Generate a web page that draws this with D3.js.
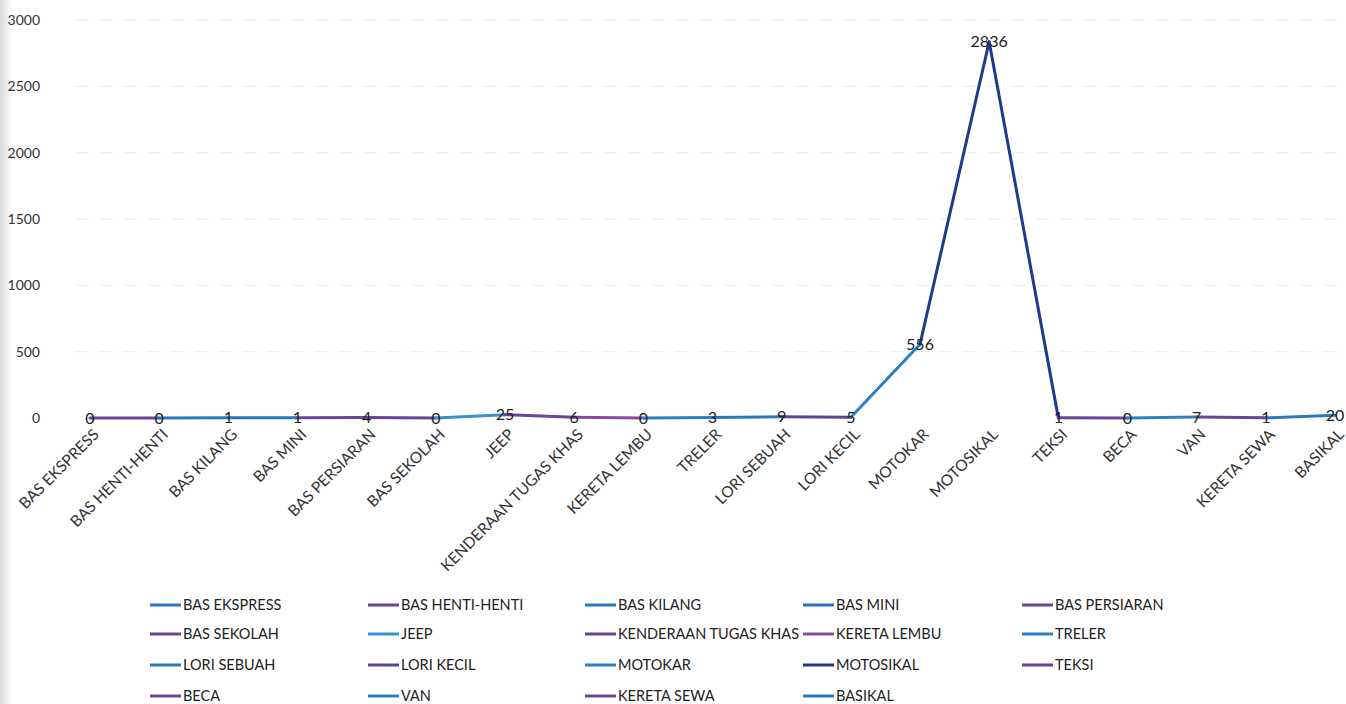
<!DOCTYPE html>
<html><head><meta charset="utf-8">
<script src="https://cdn.jsdelivr.net/npm/d3@7"></script>
<style>body{margin:0;background:#fff;}svg{display:block;}</style>
</head><body>
<svg id="c" width="1346" height="704"></svg>
<script>
const categories = ["BAS EKSPRESS","BAS HENTI-HENTI","BAS KILANG","BAS MINI","BAS PERSIARAN","BAS SEKOLAH","JEEP","KENDERAAN TUGAS KHAS","KERETA LEMBU","TRELER","LORI SEBUAH","LORI KECIL","MOTOKAR","MOTOSIKAL","TEKSI","BECA","VAN","KERETA SEWA","BASIKAL"];
const values = [0,0,1,1,4,0,25,6,0,3,9,5,556,2836,1,0,7,1,20];
const yTicks = [0,500,1000,1500,2000,2500,3000];
const seriesColors = ["#2a78c0","#6a4593","#2a78c0","#2a72bd","#6a4593","#6a4593","#3a8fd0","#6a4593","#8a4a9a","#2a80c6","#2a78c0","#5e4590","#2a80c6","#1f3a8c","#6a4593","#6a4593","#2a80c6","#6a4593","#2a78c0"];

const svg = d3.select("#c");
const font = "Lato, 'Open Sans', sans-serif";

// scan edge
const g0 = svg.append("defs").append("linearGradient").attr("id","edge").attr("x1",0).attr("x2",1);
g0.append("stop").attr("offset",0).attr("stop-color","#d8d8d8");
g0.append("stop").attr("offset",1).attr("stop-color","#ffffff");
svg.append("rect").attr("x",0).attr("y",0).attr("width",12).attr("height",704).attr("fill","url(#edge)");

const x = d3.scalePoint().domain(categories).range([90,1335]);
const y = d3.scaleLinear().domain([0,3000]).range([418,20]);

// gridlines
svg.append("g").selectAll("line").data(yTicks.filter(d=>d>0)).join("line")
  .attr("x1",75).attr("x2",1340).attr("y1",d=>y(d)).attr("y2",d=>y(d))
  .attr("stroke","#ececec").attr("stroke-width",1).attr("stroke-dasharray","14,10");

// y axis labels
const yAxis = d3.axisLeft(y).tickValues(yTicks).tickFormat(d3.format("d")).tickSize(0).tickPadding(0);
const ya = svg.append("g").attr("transform","translate(40,0)").call(yAxis);
ya.select(".domain").remove();
ya.selectAll("text").attr("font-family",font).attr("font-size",14).attr("fill","#333");

// x axis labels
const xAxis = d3.axisBottom(x).tickSize(0).tickPadding(0);
const xa = svg.append("g").attr("transform","translate(0,430)").call(xAxis);
xa.select(".domain").remove();
xa.selectAll("text")
  .attr("font-family",font).attr("font-size",15.5).attr("fill","#333")
  .attr("text-anchor","end").attr("dy","0.5em")
  .attr("transform","translate(4,0) rotate(-45)");

// line segments
const segs = d3.range(categories.length-1).map(i=>({i, a:categories[i], b:categories[i+1], va:values[i], vb:values[i+1]}));
const lineGen = d3.line().x(d=>x(d[0])).y(d=>y(d[1]));
svg.append("g").selectAll("path").data(segs).join("path")
  .attr("d",d=>lineGen([[d.a,d.va],[d.b,d.vb]]))
  .attr("fill","none")
  .attr("stroke",d=>(d.a==="MOTOSIKAL"||d.b==="MOTOSIKAL")?seriesColors[13]:seriesColors[d.i+1])
  .attr("stroke-width",3).attr("stroke-linecap","round");

// data labels
svg.append("g").selectAll("text").data(categories).join("text")
  .attr("x",d=>x(d)).attr("y",(d,i)=>y(values[i]))
  .attr("dy","0.35em").attr("text-anchor","middle")
  .attr("font-family",font).attr("font-size",16).attr("fill","#222")
  .text((d,i)=>values[i]);

// legend
const colX = [150,368,585,803,1022];
const rowY = [605,634,665,696];
const lg = svg.append("g").selectAll("g").data(categories).join("g")
  .attr("transform",(d,i)=>`translate(${colX[i%5]},${rowY[Math.floor(i/5)]})`);
lg.append("line").attr("x1",0).attr("x2",31).attr("y1",0).attr("y2",0)
  .attr("stroke",(d,i)=>seriesColors[i]).attr("stroke-width",3);
lg.append("text").attr("x",33).attr("y",0).attr("dy","0.35em")
  .attr("font-family",font).attr("font-size",14.5).attr("fill","#222")
  .text(d=>d);
</script>
</body></html>
